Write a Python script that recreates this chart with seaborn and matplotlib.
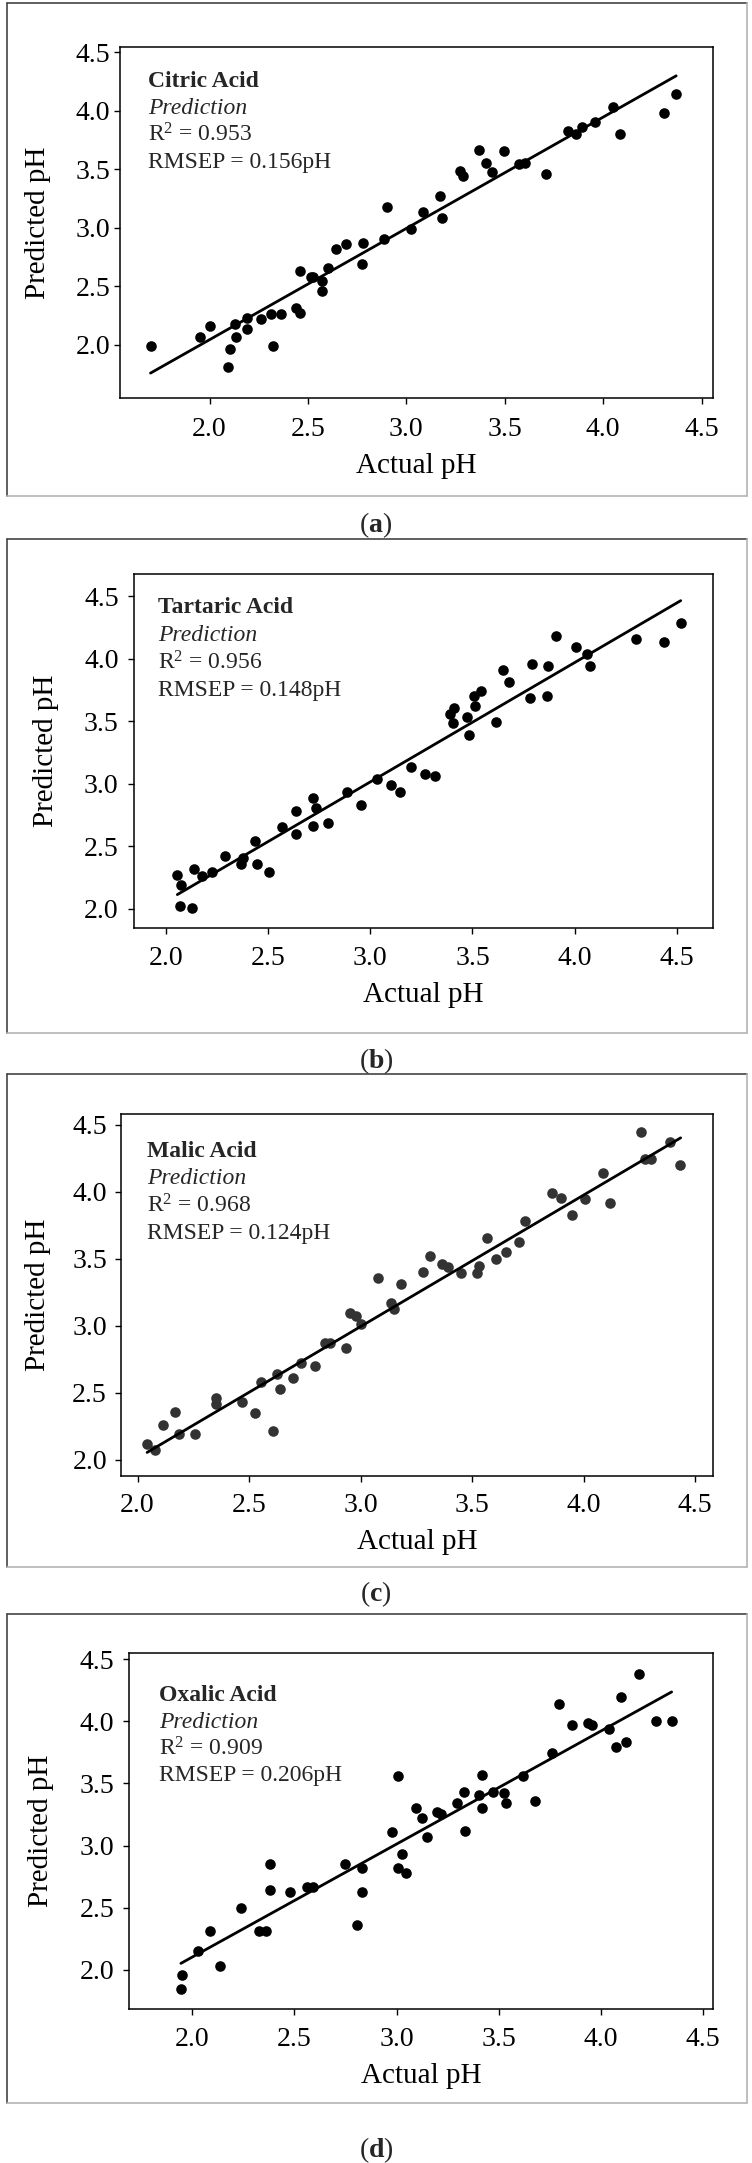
import numpy as np
import pandas as pd
import matplotlib
matplotlib.use("Agg")
import matplotlib.pyplot as plt
from matplotlib.lines import Line2D
import seaborn as sns

# ---------------- data ----------------
citric_actual = [1.70, 1.954, 2.00, 2.105, 2.093, 2.127, 2.132, 2.19, 2.19, 2.263, 2.314, 2.363,
                 2.322, 2.439, 2.46, 2.46, 2.514, 2.526, 2.57, 2.57, 2.604, 2.643, 2.694, 2.78,
                 2.775, 2.885, 2.904, 3.026, 3.082, 3.172, 3.18, 3.272, 3.289, 3.367, 3.404,
                 3.435, 3.494, 3.572, 3.601, 3.708, 3.823, 3.862, 3.893, 3.959, 4.049, 4.088,
                 4.31, 4.371]
citric_pred = [1.99, 2.067, 2.16, 1.96, 1.81, 2.18, 2.067, 2.23, 2.137, 2.22, 2.265, 2.265,
               1.99, 2.314, 2.274, 2.63, 2.58, 2.58, 2.54, 2.454, 2.655, 2.817, 2.863, 2.872,
               2.686, 2.905, 3.177, 2.99, 3.137, 3.268, 3.082, 3.488, 3.442, 3.662, 3.555,
               3.476, 3.652, 3.546, 3.552, 3.463, 3.829, 3.802, 3.863, 3.906, 4.03, 3.805,
               3.98, 4.143]
citric_fit_x = [1.70, 4.371]
citric_fit_y = [1.756, 4.299]

tartaric_actual = [2.056, 2.075, 2.070, 2.127, 2.138, 2.178, 2.227, 2.291, 2.368, 2.378, 2.434,
                   2.446, 2.504, 2.568, 2.638, 2.638, 2.718, 2.736, 2.718, 2.793, 2.886, 2.957,
                   3.034, 3.102, 3.147, 3.198, 3.266, 3.316, 3.388, 3.412, 3.407, 3.475, 3.482,
                   3.506, 3.513, 3.543, 3.614, 3.649, 3.677, 3.782, 3.789, 3.864, 3.871, 3.909,
                   4.005, 4.059, 4.073, 4.301, 4.437, 4.519]
tartaric_pred = [2.271, 2.188, 2.023, 2.003, 2.317, 2.265, 2.294, 2.425, 2.362, 2.408, 2.542,
                 2.357, 2.291, 2.656, 2.779, 2.602, 2.885, 2.802, 2.659, 2.685, 2.933, 2.828,
                 3.036, 2.990, 2.936, 3.130, 3.079, 3.064, 3.561, 3.607, 3.487, 3.530, 3.393,
                 3.698, 3.621, 3.738, 3.495, 3.912, 3.815, 3.684, 3.955, 3.704, 3.941, 4.177,
                 4.095, 4.035, 3.941, 4.158, 4.135, 4.283]
tartaric_fit_x = [2.056, 4.519]
tartaric_fit_y = [2.114, 4.463]

malic_actual = [2.043, 2.078, 2.115, 2.170, 2.187, 2.259, 2.354, 2.354, 2.467, 2.526, 2.554,
                2.607, 2.626, 2.637, 2.696, 2.735, 2.796, 2.839, 2.865, 2.935, 2.952, 2.978,
                3.004, 3.080, 3.137, 3.150, 3.180, 3.280, 3.309, 3.367, 3.391, 3.450, 3.520,
                3.530, 3.565, 3.609, 3.650, 3.709, 3.737, 3.859, 3.900, 3.948, 4.004, 4.087,
                4.117, 4.257, 4.274, 4.304, 4.385, 4.430]
malic_pred = [2.115, 2.072, 2.259, 2.354, 2.189, 2.189, 2.461, 2.416, 2.429, 2.346, 2.576,
              2.216, 2.642, 2.528, 2.605, 2.720, 2.701, 2.872, 2.872, 2.834, 3.095, 3.069,
              3.015, 3.354, 3.167, 3.127, 3.309, 3.402, 3.519, 3.461, 3.439, 3.391, 3.391,
              3.442, 3.652, 3.498, 3.546, 3.620, 3.778, 3.991, 3.951, 3.826, 3.946, 4.135,
              3.911, 4.441, 4.241, 4.241, 4.367, 4.201]
malic_fit_x = [2.043, 4.435]
malic_fit_y = [2.053, 4.401]

oxalic_actual = [1.944, 1.948, 2.028, 2.087, 2.138, 2.239, 2.326, 2.359, 2.378, 2.378, 2.479,
                 2.561, 2.589, 2.749, 2.808, 2.831, 2.831, 2.977, 3.007, 3.007, 3.028, 3.047,
                 3.096, 3.127, 3.148, 3.197, 3.218, 3.298, 3.329, 3.336, 3.406, 3.418, 3.418,
                 3.472, 3.526, 3.538, 3.620, 3.678, 3.761, 3.796, 3.859, 3.937, 3.958, 4.038,
                 4.075, 4.101, 4.124, 4.188, 4.270, 4.347]
oxalic_pred = [1.844, 1.958, 2.150, 2.314, 2.033, 2.498, 2.311, 2.311, 2.854, 2.645, 2.623,
               2.667, 2.667, 2.854, 2.364, 2.818, 2.623, 3.112, 3.557, 2.820, 2.932, 2.779,
               3.299, 3.224, 3.068, 3.268, 3.257, 3.340, 3.432, 3.118, 3.404, 3.568, 3.299,
               3.432, 3.424, 3.346, 3.563, 3.360, 3.744, 4.138, 3.972, 3.988, 3.972, 3.941,
               3.794, 4.197, 3.833, 4.383, 4.000, 4.002]
oxalic_fit_x = [1.944, 4.347]
oxalic_fit_y = [2.053, 4.236]

acid_names = ["Citric Acid", "Tartaric Acid", "Malic Acid", "Oxalic Acid"]
r2_values = ["0.953", "0.956", "0.968", "0.909"]
rmsep_values = ["0.156", "0.148", "0.124", "0.206"]
panel_letters = ["a", "b", "c", "d"]
tick_values = [2.0, 2.5, 3.0, 3.5, 4.0, 4.5]
tick_labels = ["2.0", "2.5", "3.0", "3.5", "4.0", "4.5"]

# ---------------- style ----------------
sns.set_style("ticks")
plt.rcParams["font.family"] = ["Liberation Serif", "DejaVu Serif"]
plt.rcParams["mathtext.fontset"] = "custom"
plt.rcParams["mathtext.rm"] = "Liberation Serif"
plt.rcParams["mathtext.it"] = "Liberation Serif:italic"
plt.rcParams["mathtext.bf"] = "Liberation Serif:bold"

W, H = 752, 2163
fig = plt.figure(figsize=(W / 100, H / 100), dpi=100)
fig.patch.set_facecolor("white")

# axes boxes in pixels: left, right, top, bottom
boxes = [(120, 713, 46.7, 398), (134.2, 713, 574, 928),
         (120.8, 713, 1114, 1475.6), (129, 713.3, 1653, 2009)]
xlims = [(1.545, 4.558), (1.845, 4.677), (1.925, 4.58), (1.69, 4.551)]
ylims = [(1.543, 4.548), (1.847, 4.676), (1.88, 4.579), (1.686, 4.549)]
ypads = [2.5, 6.7, 5.5, 6.0]
xpads = [9, 8.5, 8, 8.5]
text_x = [0.047, 0.041, 0.045, 0.051]
text_y = [[0.901, 0.825, 0.749, 0.671], [0.9045, 0.826, 0.75, 0.672],
          [0.8966, 0.8205, 0.7456, 0.6695], [0.8808, 0.805, 0.7314, 0.6556]]
ylab_x = [-0.138, -0.153, -0.140, -0.150]
xlab_y = [-0.1936, -0.189, -0.1836, -0.189]
frames = [(3, 496), (539, 1033), (1074, 1567), (1614, 2103)]
captions_y = [525, 1061, 1594, 2150]
marker_colors = ["black", "black", "#333333", "black"]

datasets = [(citric_actual, citric_pred, citric_fit_x, citric_fit_y),
            (tartaric_actual, tartaric_pred, tartaric_fit_x, tartaric_fit_y),
            (malic_actual, malic_pred, malic_fit_x, malic_fit_y),
            (oxalic_actual, oxalic_pred, oxalic_fit_x, oxalic_fit_y)]

for i in range(4):
    l, r, t, b = boxes[i]
    ax = fig.add_axes([l / W, 1 - b / H, (r - l) / W, (b - t) / H])
    xa, yp, fx, fy = datasets[i]
    df = pd.DataFrame({"Actual pH": xa, "Predicted pH": yp})
    sns.scatterplot(data=df, x="Actual pH", y="Predicted pH", ax=ax,
                    color=marker_colors[i], s=58, linewidth=0, zorder=3)
    sns.lineplot(x=fx, y=fy, ax=ax, color="black", linewidth=2.0, sort=False, zorder=4)
    ax.set_xlim(*xlims[i])
    ax.set_ylim(*ylims[i])
    ax.set_xticks(tick_values)
    ax.set_xticklabels(tick_labels)
    ax.set_yticks(tick_values)
    ax.set_yticklabels(tick_labels)
    ax.tick_params(axis="both", direction="out", length=4.5, width=1.0, color="black",
                   labelsize=20, labelcolor="black")
    ax.tick_params(axis="y", pad=ypads[i])
    ax.tick_params(axis="x", pad=xpads[i])
    for sp in ax.spines.values():
        sp.set_visible(True)
        sp.set_color("black")
        sp.set_linewidth(1.1)
    ax.set_xlabel("Actual pH", fontsize=21, color="black")
    ax.set_ylabel("Predicted pH", fontsize=21, color="black")
    ax.xaxis.label.set_verticalalignment("center")
    ax.yaxis.label.set_verticalalignment("center")
    ax.xaxis.set_label_coords(0.5, xlab_y[i])
    ax.yaxis.set_label_coords(ylab_x[i], 0.5)

    ty = text_y[i]
    tx = text_x[i]
    ax.text(tx, ty[0], acid_names[i], transform=ax.transAxes, fontsize=17,
            fontweight="bold", va="center", ha="left")
    ax.text(tx, ty[1], "Prediction", transform=ax.transAxes, fontsize=17,
            fontstyle="italic", va="center", ha="left")
    ax.text(tx, ty[2], r"R$^{2}$ = " + r2_values[i], transform=ax.transAxes, fontsize=17,
            va="center", ha="left")
    ax.text(tx, ty[3], "RMSEP = " + rmsep_values[i] + "pH", transform=ax.transAxes,
            fontsize=17, va="center", ha="left")

    # panel frame
    ft, fb = frames[i]
    fl, fr = 7, 747
    dark, light = "#444444", "#b4b4b4"
    fig.add_artist(Line2D([fl / W, fr / W], [1 - ft / H, 1 - ft / H], color=dark, lw=1.2))
    fig.add_artist(Line2D([fl / W, fl / W], [1 - ft / H, 1 - fb / H], color=dark, lw=1.2))
    fig.add_artist(Line2D([fl / W, fr / W], [1 - fb / H, 1 - fb / H], color=light, lw=1.2))
    fig.add_artist(Line2D([fr / W, fr / W], [1 - ft / H, 1 - fb / H], color=light, lw=1.2))

    fig.text(376 / W, 1 - captions_y[i] / H, r"($\mathbf{" + panel_letters[i] + r"}$)",
             fontsize=20, ha="center", va="center")

fig.savefig("out.png", dpi=100, facecolor="white")
